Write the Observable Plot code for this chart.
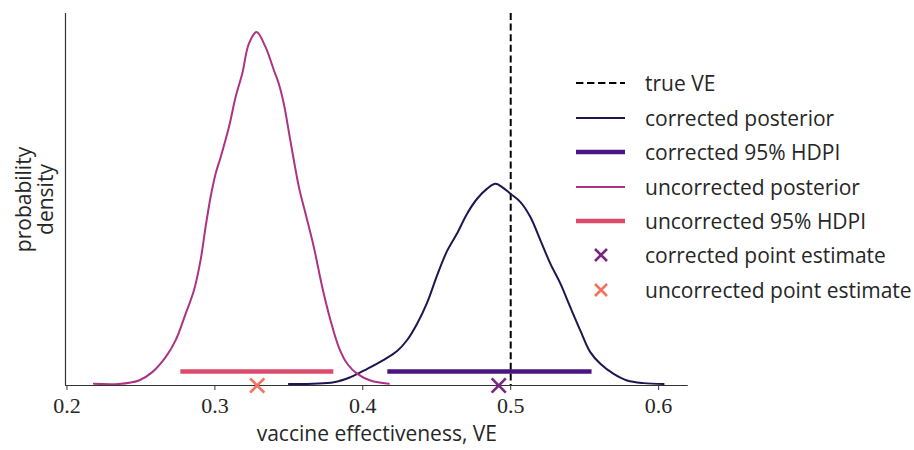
<!DOCTYPE html>
<html>
<head>
<meta charset="utf-8">
<script src="https://cdn.jsdelivr.net/npm/d3@7"></script>
<script src="https://cdn.jsdelivr.net/npm/@observablehq/plot@0.6"></script>
<style>
  html, body { margin: 0; padding: 0; background: #fff; }
  #wrap { position: relative; width: 914px; height: 450px; font-family: "Open Sans", sans-serif; color: #262626; }
  #legend { position: absolute; left: 576px; top: 66px; }
  .row { display: flex; align-items: center; height: 34.45px; font-size: 21px; white-space: nowrap; }
  .row svg { width: 50px; height: 20px; margin-right: 19px; flex: none; }
</style>
</head>
<body>
<div id="wrap"></div>
<script>
// ---- data ----
const uncVE   = [0.2182,0.2351,0.2486,0.2577,0.2667,0.2734,0.2802,0.2858,0.2903,0.2937,0.2971,0.3005,0.3039,0.3095,0.3140,0.3185,0.3230,0.3282,0.3342,0.3399,0.3432,0.3466,0.3511,0.3568,0.3613,0.3669,0.3726,0.3782,0.3838,0.3895,0.3963,0.4052,0.4176];
const uncDens = [0.01,0.0,0.16,0.54,1.22,1.98,3.19,4.25,5.62,7.13,8.50,9.56,10.31,11.68,13.04,14.11,15.47,16.0,15.32,14.26,13.65,12.74,11.04,8.95,7.74,6.22,4.40,2.89,1.67,0.92,0.46,0.16,0.01];
const corVE   = [0.3500,0.3804,0.3917,0.4030,0.4142,0.4232,0.4300,0.4368,0.4435,0.4503,0.4570,0.4638,0.4705,0.4773,0.4841,0.4897,0.4942,0.4998,0.5066,0.5133,0.5201,0.5268,0.5336,0.5403,0.5471,0.5538,0.5606,0.5696,0.5787,0.5899,0.6034];
const corDens = [0.0,0.08,0.31,0.69,1.10,1.50,2.00,2.75,3.70,4.95,6.05,6.85,7.74,8.42,8.88,9.10,8.95,8.65,8.27,7.59,6.53,5.47,4.56,3.49,2.43,1.45,0.92,0.46,0.16,0.04,0.0];
const corHDPI = [0.4169, 0.5550];
const uncHDPI = [0.2770, 0.3804];
const corPoint = 0.4919;
const uncPoint = 0.3286;
const trueVE = 0.5;
const xTicks = [0.2, 0.3, 0.4, 0.5, 0.6];
const legendLabels = ["true VE","corrected posterior","corrected 95% HDPI","uncorrected posterior","uncorrected 95% HDPI","corrected point estimate","uncorrected point estimate"];

const C = {
  corPost: "#1f1650", corHDPI: "#4a1482", uncPost: "#ac3384",
  uncHDPI: "#dc4a6c", corPt: "#7a2484", uncPt: "#f7705c"
};

const unc = uncVE.map((x, i) => ({x, y: uncDens[i]}));
const cor = corVE.map((x, i) => ({x, y: corDens[i]}));
const yMin = -0.068, yMax = 16.84, xMin = 0.199, xMax = 0.62;
const hdpiY = 0.57;

const chart = Plot.plot({
  width: 914, height: 450,
  marginLeft: 65, marginRight: 226.3, marginTop: 13, marginBottom: 65,
  x: {domain: [xMin, xMax]},
  y: {domain: [yMin, yMax], axis: null},
  style: {fontFamily: "'Open Sans', sans-serif", color: "#262626", background: "#fff"},
  marks: [
    Plot.ruleX([trueVE], {stroke: "#000", strokeWidth: 2, strokeDasharray: "7,3.6"}),
    Plot.line(cor, {x: "x", y: "y", stroke: C.corPost, strokeWidth: 2, curve: "catmull-rom"}),
    Plot.line(unc, {x: "x", y: "y", stroke: C.uncPost, strokeWidth: 2, curve: "catmull-rom"}),
    Plot.ruleY([{a: corHDPI[0], b: corHDPI[1]}], {x1: "a", x2: "b", y: () => hdpiY, stroke: C.corHDPI, strokeWidth: 4.5}),
    Plot.ruleY([{a: uncHDPI[0], b: uncHDPI[1]}], {x1: "a", x2: "b", y: () => hdpiY, stroke: C.uncHDPI, strokeWidth: 4.5}),
    Plot.ruleY([yMin], {stroke: "#333", strokeWidth: 1.2}),
    Plot.ruleX([xMin], {stroke: "#333", strokeWidth: 1.2}),
    Plot.axisX({ticks: xTicks, tickSize: 5, tickPadding: 7, tickFormat: d3.format(".1f"),
      fontSize: 22, fontFamily: "Liberation Serif", label: null, stroke: "#333"}),
    Plot.dot([corPoint], {x: d => d, y: () => yMin, symbol: "times", r: 6.5, stroke: C.corPt, strokeWidth: 2.6}),
    Plot.dot([uncPoint], {x: d => d, y: () => yMin, symbol: "times", r: 6.5, stroke: C.uncPt, strokeWidth: 2.6}),
    Plot.text(["vaccine effectiveness, VE"], {frameAnchor: "bottom", dy: 55, fontSize: 21, fill: "#262626"}),
    Plot.text(["probability"], {frameAnchor: "left", textAnchor: "middle", dx: -41, rotate: -90, fontSize: 21, fill: "#262626"}),
    Plot.text(["density"], {frameAnchor: "left", textAnchor: "middle", dx: -19.5, rotate: -90, fontSize: 21, fill: "#262626"})
  ]
});
document.getElementById("wrap").appendChild(chart);

// ---- legend ----
const legend = document.createElement("div");
legend.id = "legend";
const sw = [
  `<line x1="0" x2="49" y1="10" y2="10" stroke="#000" stroke-width="2" stroke-dasharray="7.4,3.6"/>`,
  `<line x1="0" x2="49" y1="10" y2="10" stroke="${C.corPost}" stroke-width="2"/>`,
  `<line x1="0" x2="49" y1="10" y2="10" stroke="${C.corHDPI}" stroke-width="4.5"/>`,
  `<line x1="0" x2="49" y1="10" y2="10" stroke="${C.uncPost}" stroke-width="2"/>`,
  `<line x1="0" x2="49" y1="10" y2="10" stroke="${C.uncHDPI}" stroke-width="4.5"/>`,
  `<path d="M19,4L31,16M31,4L19,16" stroke="${C.corPt}" stroke-width="2.6"/>`,
  `<path d="M19,4L31,16M31,4L19,16" stroke="${C.uncPt}" stroke-width="2.6"/>`
];
legendLabels.forEach((lab, i) => {
  const r = document.createElement("div");
  r.className = "row";
  r.innerHTML = `<svg viewBox="0 0 50 20">${sw[i]}</svg><span>${lab}</span>`;
  legend.appendChild(r);
});
document.getElementById("wrap").appendChild(legend);
</script>
</body>
</html>
